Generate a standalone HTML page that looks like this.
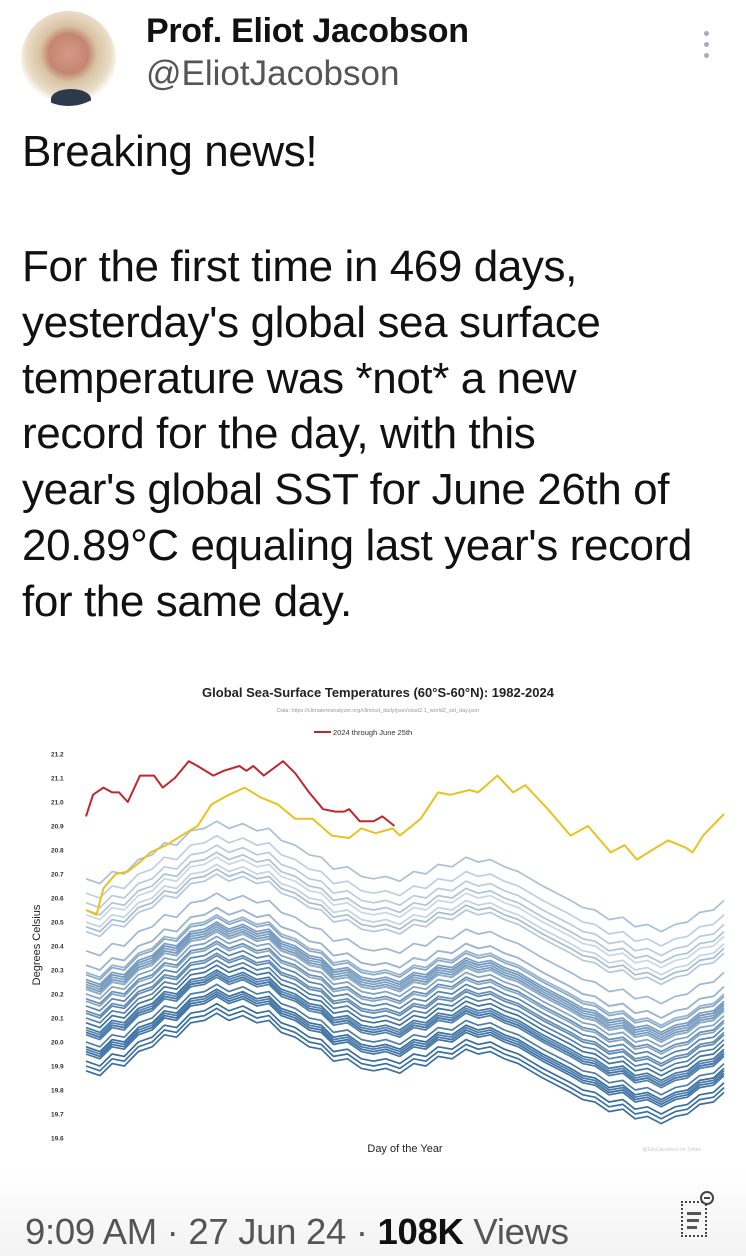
<!DOCTYPE html>
<html><head><meta charset="utf-8">
<style>
html,body{margin:0;padding:0;background:#fff;}
body{width:746px;height:1256px;position:relative;overflow:hidden;font-family:"Liberation Sans",sans-serif;color:#111;}
.abs{position:absolute;}
#tweet{left:22px;top:239px;font-size:44px;line-height:55.8px;white-space:nowrap;letter-spacing:-0.4px;}
</style></head><body>
<div class="abs" style="left:21px;top:11px;width:95px;height:95px;border-radius:50%;background:radial-gradient(circle at 50% 45%,#d49a86 0,#c48670 28%,#d8c2a4 40%,#e9dcc6 60%,#fff 72%);overflow:hidden;">
  <div style="position:absolute;left:30px;top:78px;width:40px;height:20px;background:#2e3a4c;border-radius:50% 50% 0 0;"></div>
</div>
<div class="abs" style="left:146px;top:12px;font-size:34px;font-weight:bold;letter-spacing:-0.3px;">Prof. Eliot Jacobson</div>
<div class="abs" style="left:146px;top:54px;font-size:35px;color:#555;">@EliotJacobson</div>
<div class="abs" style="left:704px;top:31px;width:6px;">
  <div style="width:5px;height:5px;border-radius:50%;background:#aab;margin-bottom:6px"></div>
  <div style="width:5px;height:5px;border-radius:50%;background:#aab;margin-bottom:6px"></div>
  <div style="width:5px;height:5px;border-radius:50%;background:#aab;"></div>
</div>
<div class="abs" style="left:22px;top:127px;font-size:44px;letter-spacing:-0.4px;">Breaking news!</div>
<div id="tweet" class="abs">For the first time in 469 days,<br>yesterday's global sea surface<br>temperature was *not* a new<br>record for the day, with this<br>year's global SST for June 26th of<br>20.89°C equaling last year's record<br>for the same day.</div>

<svg id="chart" class="abs" style="left:0;top:0" width="746" height="1160">
  <text x="378" y="697" text-anchor="middle" font-size="13" font-weight="bold" fill="#222">Global Sea-Surface Temperatures (60°S-60°N): 1982-2024</text>
  <text x="378" y="712" text-anchor="middle" font-size="5.5" fill="#999">Data: https://climatereanalyzer.org/clim/sst_daily/json/oisst2.1_world2_sst_day.json</text>
  <line x1="314" y1="732" x2="331" y2="732" stroke="#c0272d" stroke-width="2"/>
  <text x="333" y="735" font-size="7.5" fill="#333">2024 through June 25th</text>
  <text x="40" y="945" transform="rotate(-90 40 945)" text-anchor="middle" font-size="11" fill="#222">Degrees Celsius</text>
  <text x="405" y="1152" text-anchor="middle" font-size="11" fill="#222">Day of the Year</text>
  <text x="672" y="1151" text-anchor="middle" font-size="5" fill="#ccc">@EliotJacobson on Twitter</text>
  <g id="ticks"></g>
  <g id="lines"></g>
</svg>

<div class="abs" style="left:0;top:1165px;width:746px;height:91px;background:linear-gradient(#fff,#f3f3f3);"></div>
<div class="abs" style="left:25px;top:1211px;font-size:36.5px;color:#555;white-space:nowrap;letter-spacing:-0.3px;">9:09 AM · 27 Jun 24 · <span style="color:#111;font-weight:bold;">108K</span> Views</div>
<div class="abs" style="left:681px;top:1201px;width:26px;height:36px;border:2px dotted #444;box-sizing:border-box;">
  <div style="margin:9px 4px 0;height:3px;background:#555;width:14px"></div>
  <div style="margin:4px 4px 0;height:3px;background:#555;width:12px"></div>
  <div style="margin:4px 4px 0;height:3px;background:#555;width:10px"></div>
</div>
<div class="abs" style="left:700px;top:1191px;width:14px;height:14px;border:2px solid #444;border-radius:50%;background:#fff;box-sizing:border-box;"><div style="margin:4px 2px 0;height:2px;background:#444"></div></div>

<script>
const yTicks = [21.2,21.1,21.0,20.9,20.8,20.7,20.6,20.5,20.4,20.3,20.2,20.1,20.0,19.9,19.8,19.7,19.6];
const redDays = [0,4,10,15,19,24,31,39,44,51,59,64,73,79,88,92,96,102,113,120,128,136,143,148,151,157,165,170,177];
const redVals = [20.94,21.03,21.06,21.04,21.04,21.00,21.11,21.11,21.06,21.10,21.17,21.15,21.11,21.13,21.15,21.13,21.15,21.11,21.17,21.12,21.04,20.97,20.96,20.96,20.97,20.92,20.92,20.94,20.90];
const yellowDays = [0,6,10,17,24,31,37,46,57,64,72,82,91,100,110,120,130,141,151,158,166,176,180,192,202,209,220,225,236,245,252,265,278,288,301,309,316,327,334,344,348,354,366];
const yellowVals = [20.55,20.53,20.64,20.70,20.71,20.75,20.79,20.82,20.87,20.90,20.99,21.03,21.06,21.02,20.99,20.93,20.93,20.86,20.85,20.89,20.87,20.89,20.86,20.93,21.04,21.03,21.05,21.04,21.11,21.04,21.07,20.97,20.86,20.90,20.79,20.82,20.76,20.81,20.84,20.81,20.79,20.86,20.95];
const climDays = [0,8,15,22,30,38,45,52,60,68,75,82,90,98,105,112,120,128,135,142,150,158,165,172,180,188,195,202,210,218,225,232,240,248,255,262,270,278,285,292,300,308,315,322,330,338,345,352,360,366];
const climVals = [20.10,20.08,20.13,20.12,20.18,20.20,20.25,20.24,20.30,20.31,20.34,20.31,20.33,20.30,20.31,20.26,20.24,20.20,20.19,20.14,20.15,20.11,20.10,20.11,20.09,20.13,20.12,20.16,20.15,20.19,20.17,20.18,20.15,20.13,20.10,20.07,20.04,20.01,19.98,19.97,19.93,19.94,19.90,19.91,19.88,19.91,19.92,19.96,19.97,20.01];
const years = [1982,1983,1984,1985,1986,1987,1988,1989,1990,1991,1992,1993,1994,1995,1996,1997,1998,1999,2000,2001,2002,2003,2004,2005,2006,2007,2008,2009,2010,2011,2012,2013,2014,2015,2016,2017,2018,2019,2020,2021,2022];
const yearOffsets = [-0.18,-0.12,-0.20,-0.22,-0.14,-0.02,-0.06,-0.15,-0.04,-0.06,-0.13,-0.10,-0.07,0.00,-0.05,0.05,0.12,0.02,0.03,0.08,0.12,0.15,0.13,0.16,0.14,0.10,0.07,0.18,0.22,0.12,0.19,0.22,0.28,0.38,0.58,0.45,0.36,0.48,0.52,0.40,0.43];

const x0=86, x1=724, yTop=754, yBot=1138;
const xs = d => x0 + d/366*(x1-x0);
const ys = v => yTop + (21.2 - v)/(21.2-19.6)*(yBot-yTop);
const NS='http://www.w3.org/2000/svg';
const tg=document.getElementById('ticks'), lg=document.getElementById('lines');
yTicks.forEach(t=>{
  const el=document.createElementNS(NS,'text');
  
  
  el.setAttribute('x',51);el.setAttribute('y',ys(t)+2.5);
  el.setAttribute('font-size','6.5');el.setAttribute('font-weight','bold');el.setAttribute('fill','#333');
  el.textContent=t.toFixed(1);tg.appendChild(el);
});
function addLine(days, vals, color, w, name){
  const el=document.createElementNS(NS,'polyline');
  
  
  el.setAttribute('points', days.map((d,i)=>xs(d).toFixed(1)+','+ys(vals[i]).toFixed(1)).join(' '));
  el.setAttribute('fill','none');el.setAttribute('stroke',color);el.setAttribute('stroke-width',w);
  el.setAttribute('stroke-linejoin','round');
  lg.appendChild(el);
}
years.forEach((yr,i)=>{
  const f=i/(years.length-1);
  const c0=[55,110,160], c1=[200,215,230];
  const c=c0.map((a,k)=>Math.round(a+(c1[k]-a)*Math.pow(f,1.5)));
  addLine(climDays, climVals.map(v=>v+yearOffsets[i]), `rgb(${c.join(',')})`, 1.7, 'series-'+yr);
});
addLine(yellowDays, yellowVals, '#e8c21e', 2, 'series-2023');
addLine(redDays, redVals, '#c0272d', 2, 'series-2024');
</script>
</body></html>
